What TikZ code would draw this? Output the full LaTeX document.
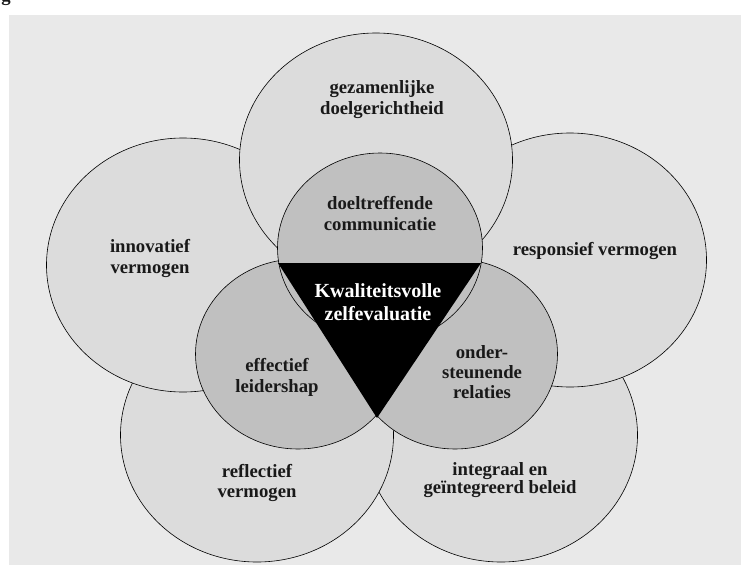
\documentclass[tikz,border=0pt]{standalone}
\usepackage{fontspec}
\setmainfont{Liberation Serif}
\usepackage{xcolor}
\usetikzlibrary{shapes.geometric, positioning}
\definecolor{bgGray}{HTML}{E9E9E9}
\definecolor{outerGray}{HTML}{DCDCDC}
\definecolor{innerGray}{HTML}{C0C0C0}

\begin{document}
\begin{tikzpicture}[x=1pt, y=-1pt,
	outer/.style={ellipse, draw, line width=0.6pt, fill=outerGray, minimum width=273pt, minimum height=254pt, inner sep=0pt},
	inner/.style={ellipse, draw, line width=0.6pt, fill=innerGray, minimum width=205pt, minimum height=190pt, inner sep=0pt},
	lbl/.style={align=center, anchor=base, inner sep=0pt, text=black!90, font=\fontsize{18.7}{21}\selectfont\bfseries}]
				\useasboundingbox (0,0) rectangle (741,565);
				\fill[bgGray] (9,15) rectangle (741,565);
				\node[lbl] (capG) at (6,1) {g};
				
				% outer ring
				\node[outer] (cBR) at (501,435) {};
				\node[outer] (cBL) at (257,435) {};
				\node[outer] (cR) at (570,260) {};
				\node[outer] (cL) at (183,265) {};
				\node[outer] (cT) at (376,160) {};
				
				% inner ring
				\node[inner] (cOnd) at (455,354) {};
				\node[inner] (cEff) at (298,354) {};
				\node[inner] (cCom) at (380,248) {};
				
				% core
				\coordinate (tL) at (278,263);
				\coordinate (tR) at (481,263);
				\coordinate (tB) at (377,418);
				\fill (tL) -- (tR) -- (tB) -- cycle;
				
				% labels, placed by the baseline of their last line
				\node[lbl] (lTop) at (382,114) {gezamenlijke\\doelgerichtheid};
				\node[lbl] (lCom) at (380,230) {doeltreffende\\communicatie};
				\node[lbl] (lInn) at (150,273) {innovatief\\vermogen};
				\node[lbl] (lRes) at (595,255) {responsief vermogen};
				\node[lbl] (lEff) at (277,392) {effectief\\leidershap};
				\node[lbl] (lOnd) at (482,398) {onder-\\[-1pt]steunende\\[-1pt]relaties};
				\node[lbl] (lRef) at (257,497) {reflectief\\[-1pt]vermogen};
				\node[lbl] (lInt) at (500,493) {integraal en\\[-3pt]geïntegreerd beleid};
				\node[lbl, text=white, font=\fontsize{20}{23}\selectfont\bfseries] (lKwa) at (378,320) {Kwaliteitsvolle\\zelfevaluatie};
			\end{tikzpicture}
\end{document}
